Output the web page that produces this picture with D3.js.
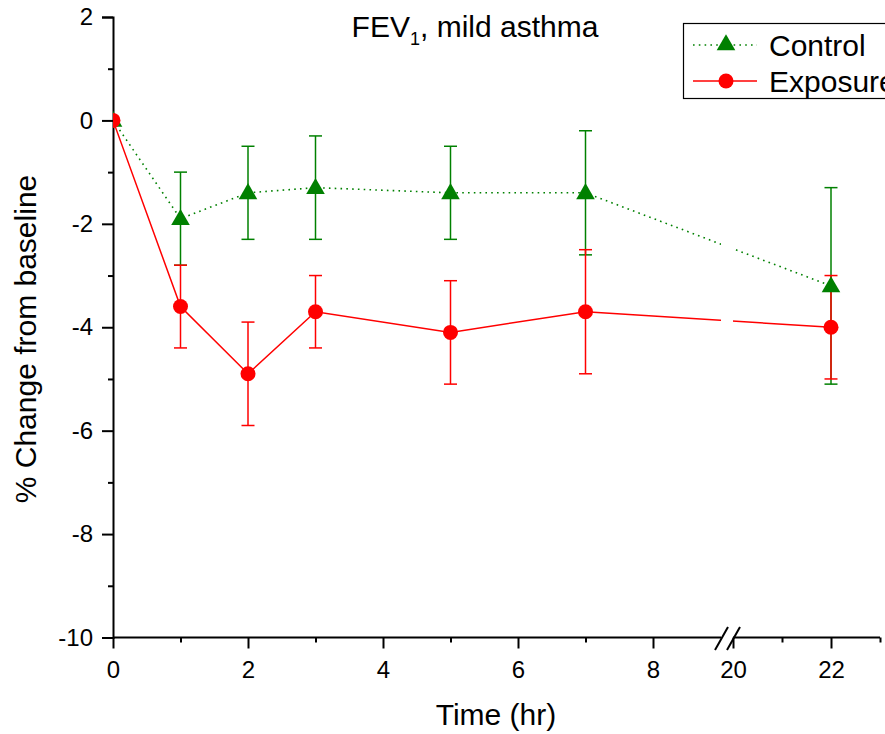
<!DOCTYPE html>
<html><head><meta charset="utf-8">
<script src="https://cdn.jsdelivr.net/npm/d3@7"></script>
<style>body{margin:0;background:#fff;} svg{display:block;font-family:"Liberation Sans",Arial,sans-serif;}</style>
</head><body>
<svg id="c" width="885" height="734"></svg>
<script>
const times = [0, 1, 2, 3, 5, 7, 22];
const controlMean  = [0, -1.9, -1.4, -1.3, -1.4, -1.4, -3.2];
const controlUpper = [0, -1.0, -0.5, -0.3, -0.5, -0.2, -1.3];
const controlLower = [0, -2.8, -2.3, -2.3, -2.3, -2.6, -5.1];
const exposureMean  = [0, -3.6, -4.9, -3.7, -4.1, -3.7, -4.0];
const exposureUpper = [0, -2.8, -3.9, -3.0, -3.1, -2.5, -3.0];
const exposureLower = [0, -4.4, -5.9, -4.4, -5.1, -4.9, -5.0];
const yMajorTicks = [-10, -8, -6, -4, -2, 0, 2];
const yMinorTicks = [-9, -7, -5, -3, -1, 1];
const xLeftMajor = [0, 2, 4, 6, 8];
const xLeftMinor = [1, 3, 5, 7];
const xRightMajor = [20, 22];
const xRightMinor = [21, 23];
const seriesNames = ["Control", "Exposure"];
const titleMain = "FEV";
const titleSub = "1";
const titleRest = ", mild asthma";
const xTitle = "Time (hr)";
const yTitle = "% Change from baseline";

const svg = d3.select("#c");
const xL = d3.scaleLinear().domain([0, 9]).range([113, 720.5]);
const xR = d3.scaleLinear().domain([20, 23]).range([733, 880]);
const xp = v => v <= 9 ? xL(v) : xR(v);
const y = d3.scaleLinear().domain([-10, 2]).range([637.5, 17]);
const GREEN = "#008000", RED = "#ff0000";

const defs = svg.append("defs");
defs.append("clipPath").attr("id","plot").append("rect").attr("x",113).attr("y",0).attr("width",772).attr("height",640);
const gp = defs.append("clipPath").attr("id","gap");
gp.append("rect").attr("x",113).attr("y",0).attr("width",721-113).attr("height",640);
gp.append("rect").attr("x",733).attr("y",0).attr("width",200).attr("height",640);

const fmt = d => d;
svg.append("g").attr("transform","translate(113,0)")
  .call(d3.axisLeft(y).tickValues(yMajorTicks).tickSize(11).tickPadding(9).tickFormat(fmt));
svg.append("g").attr("transform","translate(113,0)")
  .call(d3.axisLeft(y).tickValues(yMinorTicks).tickSize(5).tickFormat(""))
  .select(".domain").remove();
const xAxL = svg.append("g").attr("transform","translate(0,637.5)")
  .call(d3.axisBottom(xL).tickValues(xLeftMajor).tickSize(11).tickPadding(12).tickFormat(fmt));
svg.append("g").attr("transform","translate(0,637.5)")
  .call(d3.axisBottom(xL).tickValues(xLeftMinor).tickSize(5).tickFormat(""))
  .select(".domain").remove();
const xAxR = svg.append("g").attr("transform","translate(0,637.5)")
  .call(d3.axisBottom(xR).tickValues(xRightMajor).tickSize(11).tickPadding(12).tickFormat(fmt));
svg.append("g").attr("transform","translate(0,637.5)")
  .call(d3.axisBottom(xR).tickValues(xRightMinor).tickSize(5).tickFormat(""))
  .select(".domain").remove();
svg.selectAll(".tick text").attr("font-size",24).attr("font-family","Liberation Sans, Arial, sans-serif").attr("fill","#000");
svg.selectAll(".tick line").attr("stroke","#000").attr("stroke-width",2);
svg.selectAll(".domain").attr("stroke","#000").attr("stroke-width",2);
xAxL.select(".domain").attr("d","M113,0H721");
xAxR.select(".domain").attr("d","M733,0H880");
const brk = svg.append("g").attr("stroke","#000").attr("stroke-width",2);
[[715,728],[727,740]].forEach(([a,b]) => brk.append("line").attr("x1",a).attr("y1",650).attr("x2",b).attr("y2",627));

const ctrl = times.map((t,i)=>({t, m:controlMean[i], u:controlUpper[i], l:controlLower[i]}));
const expo = times.map((t,i)=>({t, m:exposureMean[i], u:exposureUpper[i], l:exposureLower[i]}));
const line = d3.line().x(d=>xp(d.t)).y(d=>y(d.m));

const plot = svg.append("g").attr("clip-path","url(#plot)");
function errbars(data, color) {
  const g = plot.append("g").attr("stroke",color).attr("stroke-width",1.5);
  data.filter(d=>d.u!==d.l).forEach(d=>{
    const x = xp(d.t);
    g.append("line").attr("x1",x).attr("x2",x).attr("y1",y(d.u)).attr("y2",y(d.l));
    g.append("line").attr("x1",x-6.5).attr("x2",x+6.5).attr("y1",y(d.u)).attr("y2",y(d.u));
    g.append("line").attr("x1",x-6.5).attr("x2",x+6.5).attr("y1",y(d.l)).attr("y2",y(d.l));
  });
}
errbars(ctrl, GREEN);
errbars(expo, RED);
plot.append("g").attr("clip-path","url(#gap)").append("path").datum(ctrl).attr("d",line)
  .attr("fill","none").attr("stroke",GREEN).attr("stroke-width",1.6).attr("stroke-dasharray","1.6,4.2");
plot.append("g").attr("clip-path","url(#gap)").append("path").datum(expo).attr("d",line)
  .attr("fill","none").attr("stroke",RED).attr("stroke-width",1.5);
const tri = d3.symbol().type(d3.symbolTriangle).size(150);
plot.selectAll(".tri").data(ctrl).join("path").attr("d",tri)
  .attr("transform",d=>`translate(${xp(d.t)},${y(d.m)+1})`).attr("fill",GREEN);
plot.selectAll(".circ").data(expo).join("circle")
  .attr("cx",d=>xp(d.t)).attr("cy",d=>y(d.m)).attr("r",7.5).attr("fill",RED);

const t = svg.append("text").attr("x",475).attr("y",37).attr("text-anchor","middle").attr("font-size",30);
t.append("tspan").text(titleMain);
t.append("tspan").attr("font-size",18).attr("dy",8).text(titleSub);
t.append("tspan").attr("dy",-8).text(titleRest);
svg.append("text").attr("x",496).attr("y",725).attr("text-anchor","middle").attr("font-size",30).text(xTitle);
svg.append("text").attr("transform","translate(36,339) rotate(-90)").attr("text-anchor","middle").attr("font-size",30).text(yTitle);

const lg = svg.append("g");
lg.append("rect").attr("x",683.5).attr("y",23.5).attr("width",260).attr("height",75)
  .attr("fill","#fff").attr("stroke","#000").attr("stroke-width",1.2);
const rows = [{name:seriesNames[0], c:GREEN, dash:"1.6,4.2", sym:"tri", yy:45},
              {name:seriesNames[1], c:RED, dash:null, sym:"circ", yy:81}];
rows.forEach(r=>{
  lg.append("line").attr("x1",693).attr("x2",757).attr("y1",r.yy).attr("y2",r.yy)
    .attr("stroke",r.c).attr("stroke-width",1.5).attr("stroke-dasharray",r.dash);
  if (r.sym==="tri") lg.append("path").attr("d",tri).attr("transform",`translate(726,${r.yy})`).attr("fill",r.c);
  else lg.append("circle").attr("cx",726).attr("cy",r.yy).attr("r",7.5).attr("fill",r.c);
  lg.append("text").attr("x",769).attr("y",r.yy+11).attr("font-size",30).text(r.name);
});
</script>
</body></html>
